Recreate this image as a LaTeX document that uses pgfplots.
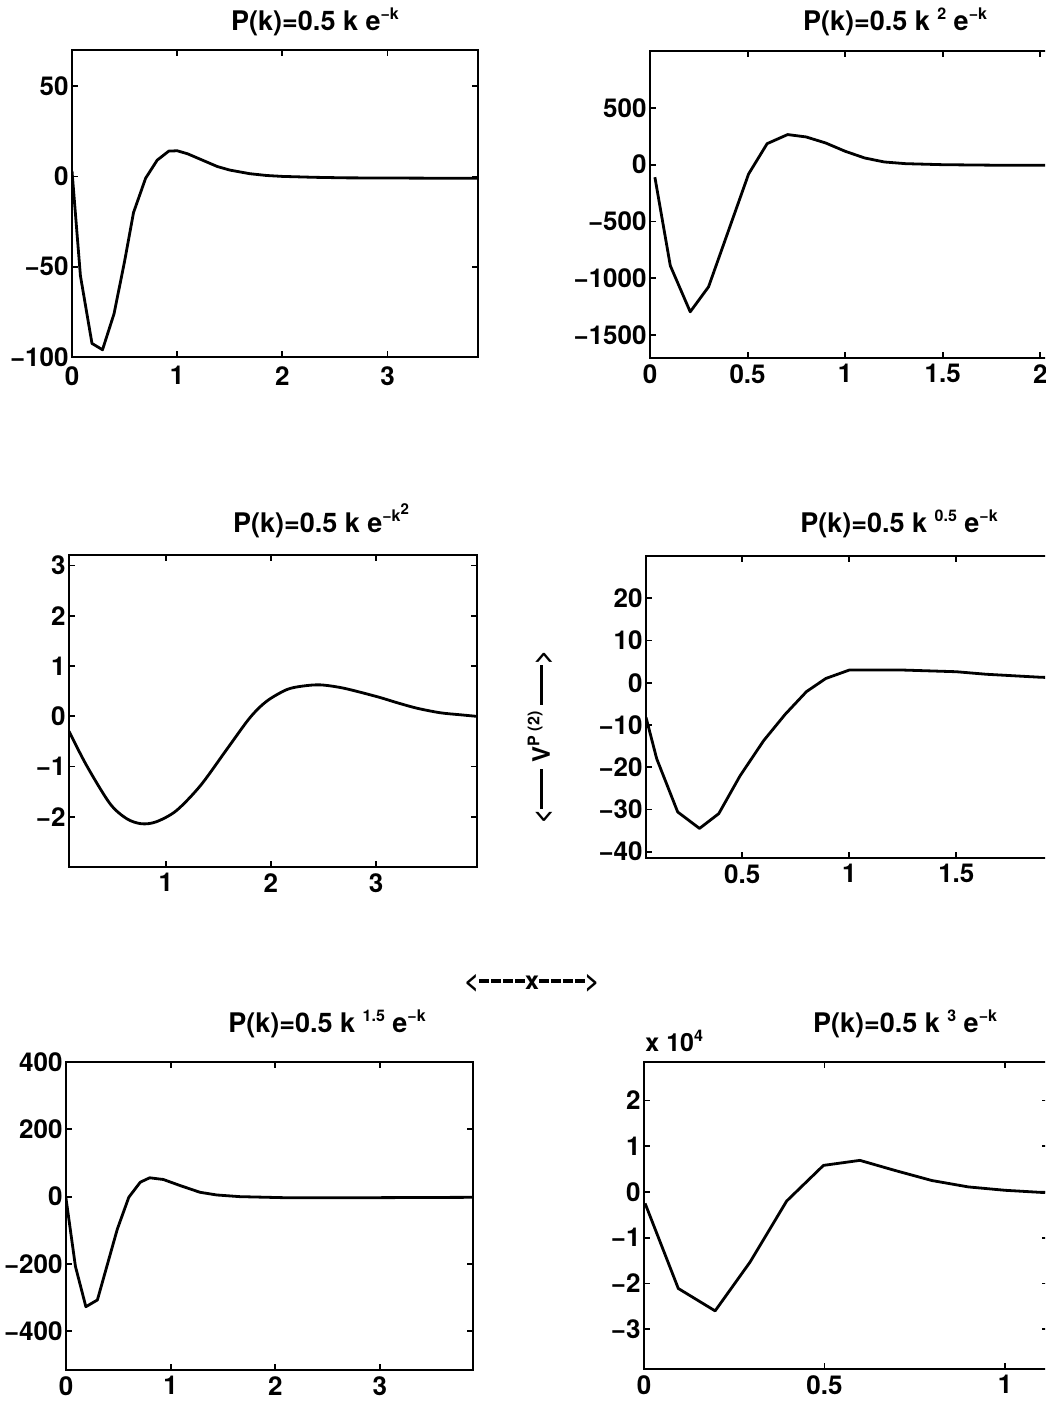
\documentclass[border=0pt]{standalone}
\usepackage{fontspec}
\setmainfont{TeX Gyre Heros}
\usepackage{pgfplots}
\pgfplotsset{compat=1.18}
\newcommand{\sps}[1]{\raisebox{0.8ex}{\fontsize{8}{8}\selectfont #1}}
\newcommand{\spss}[1]{\raisebox{0.8ex}{\fontsize{7.5}{7.5}\selectfont #1}}
\newcommand{\dsh}{\rule[0.26em]{5pt}{1.7pt}}
\pgfplotsset{
  mstyle/.style={
    scale only axis,
    axis line style={line width=1.3pt},
    tick style={line width=0.9pt,black},
    major tick length=3pt,
    tick align=inside,
    xtick pos=both, ytick pos=both,
    xticklabel pos=lower, yticklabel pos=left,
    scaled ticks=false,
    tick label style={font=\fontsize{13}{13}\selectfont\bfseries},
    yticklabel style={inner xsep=1.5pt},
    xticklabel style={inner ysep=3pt},
    anchor=south west,
  },
  cstyle/.style={black, line width=1.4pt, line join=round, no markers},
}
\begin{document}
\begin{tikzpicture}
\useasboundingbox (0,0) rectangle (522.5pt,702pt);
\clip (0,0) rectangle (522.5pt,702pt);

% Plot 1
\begin{axis}[mstyle, at={(36pt,523.5pt)}, width=203pt, height=153.5pt,
  xmin=0, xmax=3.86, ymin=-100, ymax=70,
  xticklabel style={inner ysep=4.5pt},
  xtick={0,1,2,3}, xticklabels={0,1,2,3},
  ytick={-100,-50,0,50}, yticklabels={−100,−50,0,50}]
\addplot[cstyle] coordinates {
(0,3) (0.08,-55) (0.19,-92.5) (0.29,-96) (0.40,-76) (0.50,-47) (0.585,-20)
(0.70,-1) (0.81,9) (0.92,14) (1.0,14.2) (1.1,12.5) (1.2,10) (1.38,5.5)
(1.5,3.5) (1.69,1.5) (1.85,0.5) (2.0,0) (2.3,-0.5) (2.6,-0.8) (3.0,-0.9)
(3.5,-1) (3.86,-1)};
\end{axis}

% Plot 2
\begin{axis}[mstyle, at={(325pt,523pt)}, width=203pt, height=153.5pt,
  xmin=0, xmax=2.08, ymin=-1700, ymax=1000,
  xtick={0,0.5,1,1.5,2}, xticklabels={0,0.5,1,1.5,2},
  ytick={-1500,-1000,-500,0,500}, yticklabels={−1500,−1000,−500,0,500}]
\addplot[cstyle] coordinates {
(0.025,-110) (0.104,-888) (0.206,-1294) (0.30,-1074) (0.505,-82) (0.60,185)
(0.705,265) (0.80,244) (0.90,191) (1.0,118) (1.1,59) (1.2,24) (1.31,9)
(1.5,0) (1.8,-5) (2.1,-5)};
\end{axis}

% Plot 3
\begin{axis}[mstyle, at={(34.5pt,268.5pt)}, width=204pt, height=156pt,
  xmin=0.08, xmax=3.96, ymin=-3, ymax=3.21,
  xtick={1,2,3}, xticklabels={1,2,3},
  ytick={-2,-1,0,1,2,3}, yticklabels={−2,−1,0,1,2,3}]
\addplot[cstyle, smooth, tension=0.5] coordinates {
(0.08,-0.30) (0.25,-0.99) (0.47,-1.74) (0.63,-2.04) (0.77,-2.14) (0.91,-2.10)
(1.10,-1.88) (1.33,-1.38) (1.58,-0.66) (1.80,-0.03) (1.96,0.30) (2.15,0.53)
(2.30,0.60) (2.47,0.625) (2.69,0.56) (3.01,0.39) (3.20,0.27) (3.39,0.16)
(3.61,0.07) (3.80,0.03) (3.95,0.0)};
\end{axis}

% Plot 4
\begin{axis}[mstyle, at={(323pt,273pt)}, width=203pt, height=151pt,
  xmin=0.05, xmax=1.947, ymin=-41.5, ymax=30,
  xtick={0.5,1,1.5}, xticklabels={0.5,1,1.5},
  ytick={-40,-30,-20,-10,0,10,20}, yticklabels={−40,−30,−20,−10,0,10,20}]
\addplot[cstyle] coordinates {
(0.05,-8.2) (0.10,-18) (0.198,-30.6) (0.30,-34.5) (0.39,-31) (0.49,-22)
(0.60,-13.7) (0.70,-7.5) (0.80,-2.1) (0.89,1.0) (1.0,3.0) (1.25,3.0)
(1.50,2.6) (1.64,2.0) (1.89,1.3) (1.95,1.2)};
\end{axis}

% Plot 5
\begin{axis}[mstyle, at={(33pt,17pt)}, width=203.5pt, height=154pt,
  xmin=0, xmax=3.89, ymin=-515, ymax=400,
  xtick={0,1,2,3}, xticklabels={0,1,2,3},
  ytick={-400,-200,0,200,400}, yticklabels={−400,−200,0,200,400}]
\addplot[cstyle] coordinates {
(0,-5) (0.09,-207) (0.19,-327) (0.30,-307) (0.49,-97) (0.60,-2) (0.71,43)
(0.80,56) (0.93,51) (1.09,33) (1.28,13) (1.44,5) (1.66,0) (2.07,-3)
(3.0,-3) (3.88,-2)};
\end{axis}

% Plot 6
\begin{axis}[mstyle, at={(322pt,17.5pt)}, width=202pt, height=153.5pt,
  xmin=0, xmax=1.119, ymin=-38700, ymax=28400,
  xtick={0,0.5,1}, xticklabels={0,0.5,1},
  ytick={-30000,-20000,-10000,0,10000,20000}, yticklabels={−3,−2,−1,0,1,2}]
\addplot[cstyle] coordinates {
(0.003,-2500) (0.095,-21100) (0.197,-26000) (0.294,-15300) (0.395,-2000)
(0.497,5800) (0.598,6900) (0.695,4700) (0.797,2500) (0.898,1100)
(1.0,360) (1.10,-100) (1.12,-100)};
\end{axis}

% Titles
\begin{scope}[every node/.style={font=\fontsize{13.5}{13.5}\selectfont\bfseries, inner sep=0pt}]
\node[anchor=base] at (157.5pt,686.5pt) {P(k)=0.5 k e\sps{−k}};
\node[anchor=base] at (447.5pt,686.5pt) {P(k)=0.5 k \sps{2} e\sps{−k}};
\node[anchor=base] at (160.5pt,435.5pt) {P(k)=0.5 k e\sps{−k\spss{2}}};
\node[anchor=base] at (449.5pt,435.5pt) {P(k)=0.5 k \sps{0.5} e\sps{−k}};
\node[anchor=base] at (163.5pt,185.5pt) {P(k)=0.5 k \sps{1.5} e\sps{−k}};
\node[anchor=base] at (452.5pt,185.5pt) {P(k)=0.5 k \sps{3} e\sps{−k}};
\node[anchor=base west, font=\fontsize{12.5}{12.5}\selectfont\bfseries] at (322.5pt,176pt) {x 10\sps{4}};
\end{scope}

% Axis labels
\node[rotate=90, inner sep=0pt, font=\fontsize{12}{12}\selectfont\bfseries] at (270pt,333.5pt)
  {<\rule[0.28em]{20pt}{1.5pt} V\sps{P (2)} \rule[0.28em]{20pt}{1.5pt}>};
\node[inner sep=0pt, font=\fontsize{12.5}{12.5}\selectfont\bfseries] at (266pt,210.5pt)
  {<\dsh\hspace{1pt}\dsh\hspace{1pt}\dsh\hspace{1pt}\dsh x\dsh\hspace{1pt}\dsh\hspace{1pt}\dsh\hspace{1pt}\dsh>};
\end{tikzpicture}
\end{document}
